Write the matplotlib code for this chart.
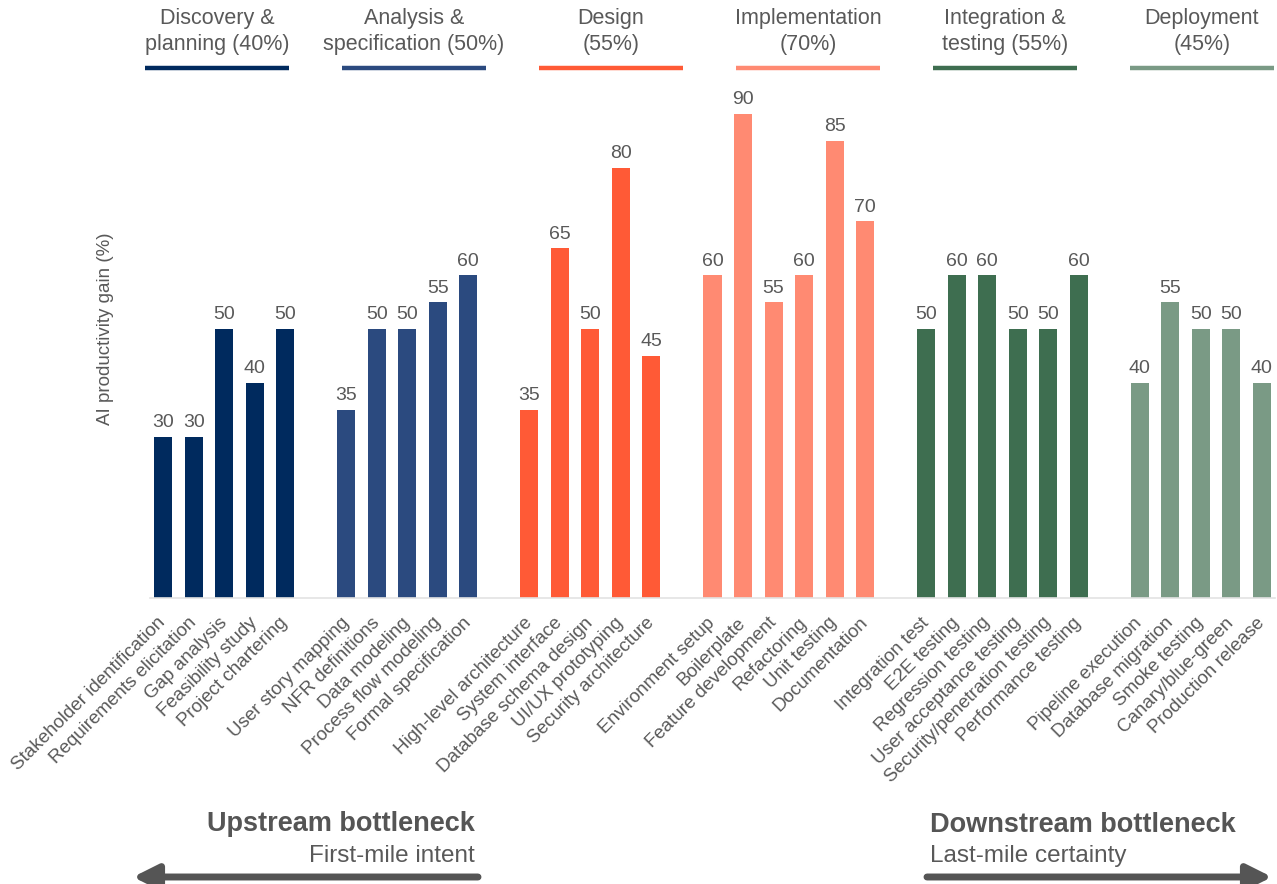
import matplotlib
matplotlib.use("Agg")
import matplotlib.pyplot as plt
from matplotlib.lines import Line2D

plt.rcParams['font.family'] = ['Liberation Sans', 'DejaVu Sans']

# ---------------- data ----------------
phase_names = ["Discovery &\nplanning (40%)", "Analysis &\nspecification (50%)", "Design\n(55%)",
               "Implementation\n(70%)", "Integration &\ntesting (55%)", "Deployment\n(45%)"]
phase_colors = ["#002A5E", "#2B4A7F", "#FF5A36", "#FF8A72", "#3E6E50", "#7A9A85"]

g1_labels = ["Stakeholder identification", "Requirements elicitation", "Gap analysis",
             "Feasibility study", "Project chartering"]
g1_values = [30, 30, 50, 40, 50]
g2_labels = ["User story mapping", "NFR definitions", "Data modeling",
             "Process flow modeling", "Formal specification"]
g2_values = [35, 50, 50, 55, 60]
g3_labels = ["High-level architecture", "System interface", "Database schema design",
             "UI/UX prototyping", "Security architecture"]
g3_values = [35, 65, 50, 80, 45]
g4_labels = ["Environment setup", "Boilerplate", "Feature development",
             "Refactoring", "Unit testing", "Documentation"]
g4_values = [60, 90, 55, 60, 85, 70]
g5_labels = ["Integration test", "E2E testing", "Regression testing",
             "User acceptance testing", "Security/penetration testing", "Performance testing"]
g5_values = [50, 60, 60, 50, 50, 60]
g6_labels = ["Pipeline execution", "Database migration", "Smoke testing",
             "Canary/blue-green", "Production release"]
g6_values = [40, 55, 50, 50, 40]

groups_labels = [g1_labels, g2_labels, g3_labels, g4_labels, g5_labels, g6_labels]
groups_values = [g1_values, g2_values, g3_values, g4_values, g5_values, g6_values]

y_label = "AI productivity gain (%)"
left_title, left_sub = "Upstream bottleneck", "First-mile intent"
right_title, right_sub = "Downstream bottleneck", "Last-mile certainty"

# ---------------- figure ----------------
W, H = 1277, 884
fig = plt.figure(figsize=(W / 100, H / 100), dpi=100)
TXT = "#595959"

ax = fig.add_axes([150 / W, 1 - 598 / H, 1125 / W, (598 - 60) / H])

pos = 0
all_x, all_lab = [], []
for gi, (labs, vals) in enumerate(zip(groups_labels, groups_values)):
    xs = list(range(pos, pos + len(labs)))
    bars = ax.bar(xs, vals, width=0.59, color=phase_colors[gi], zorder=2)
    for b, v in zip(bars, vals):
        ax.annotate(f"{v}", (b.get_x() + b.get_width() / 2, v), xytext=(0, 4),
                    textcoords="offset points", ha="center", va="bottom",
                    fontsize=14, color=TXT)
    all_x += xs
    all_lab += labs
    pos += len(labs) + 1

ax.set_xlim(-0.43, all_x[-1] + 0.43)
ax.set_ylim(0, 100)
ax.set_xticks(all_x)
ax.set_xticklabels(all_lab, rotation=45, ha="right", va="center",
                   rotation_mode="anchor", fontsize=13.5, color=TXT)
ax.tick_params(axis="x", length=0, pad=16)
ax.set_yticks([])
for s in ["left", "right", "top"]:
    ax.spines[s].set_visible(False)
ax.spines["bottom"].set_color("#E3E3E3")
ax.spines["bottom"].set_linewidth(1.2)
ax.set_ylabel(y_label, fontsize=13.5, color=TXT)
ax.yaxis.set_label_coords(-0.032, 0.5)

# ---------------- phase headers ----------------
for i, (name, col) in enumerate(zip(phase_names, phase_colors)):
    x0 = 145 + 197 * i
    x1 = x0 + 144
    fig.text((x0 + x1) / 2 / W, 1 - 31.5 / H, name, ha="center", va="center",
             fontsize=15.5, color=TXT, linespacing=1.3)
    fig.add_artist(Line2D([x0 / W, x1 / W], [1 - 68 / H, 1 - 68 / H],
                          color=col, lw=3.2, solid_capstyle="butt"))

# ---------------- bottom annotations ----------------
fig.text(475 / W, 1 - 831 / H, left_title, ha="right", va="baseline",
         fontsize=19.5, fontweight="bold", color="#555555")
fig.text(475 / W, 1 - 862 / H, left_sub, ha="right", va="baseline",
         fontsize=17.5, color=TXT)
fig.text(930 / W, 1 - 832 / H, right_title, ha="left", va="baseline",
         fontsize=19.5, fontweight="bold", color="#555555")
fig.text(930 / W, 1 - 862 / H, right_sub, ha="left", va="baseline",
         fontsize=17.5, color=TXT)

arrow_kw = dict(arrowstyle="-|>,head_length=1.5,head_width=0.75", lw=5,
                color="#555555", shrinkA=0, shrinkB=0, mutation_scale=10)
fig.add_artist(plt.Annotation("", xy=(133 / W, 1 - 877 / H), xytext=(478 / W, 1 - 877 / H),
                              xycoords="figure fraction", textcoords="figure fraction",
                              arrowprops=arrow_kw))
fig.add_artist(plt.Annotation("", xy=(1272 / W, 1 - 877 / H), xytext=(927 / W, 1 - 877 / H),
                              xycoords="figure fraction", textcoords="figure fraction",
                              arrowprops=arrow_kw))

fig.savefig("out.png", dpi=100)
